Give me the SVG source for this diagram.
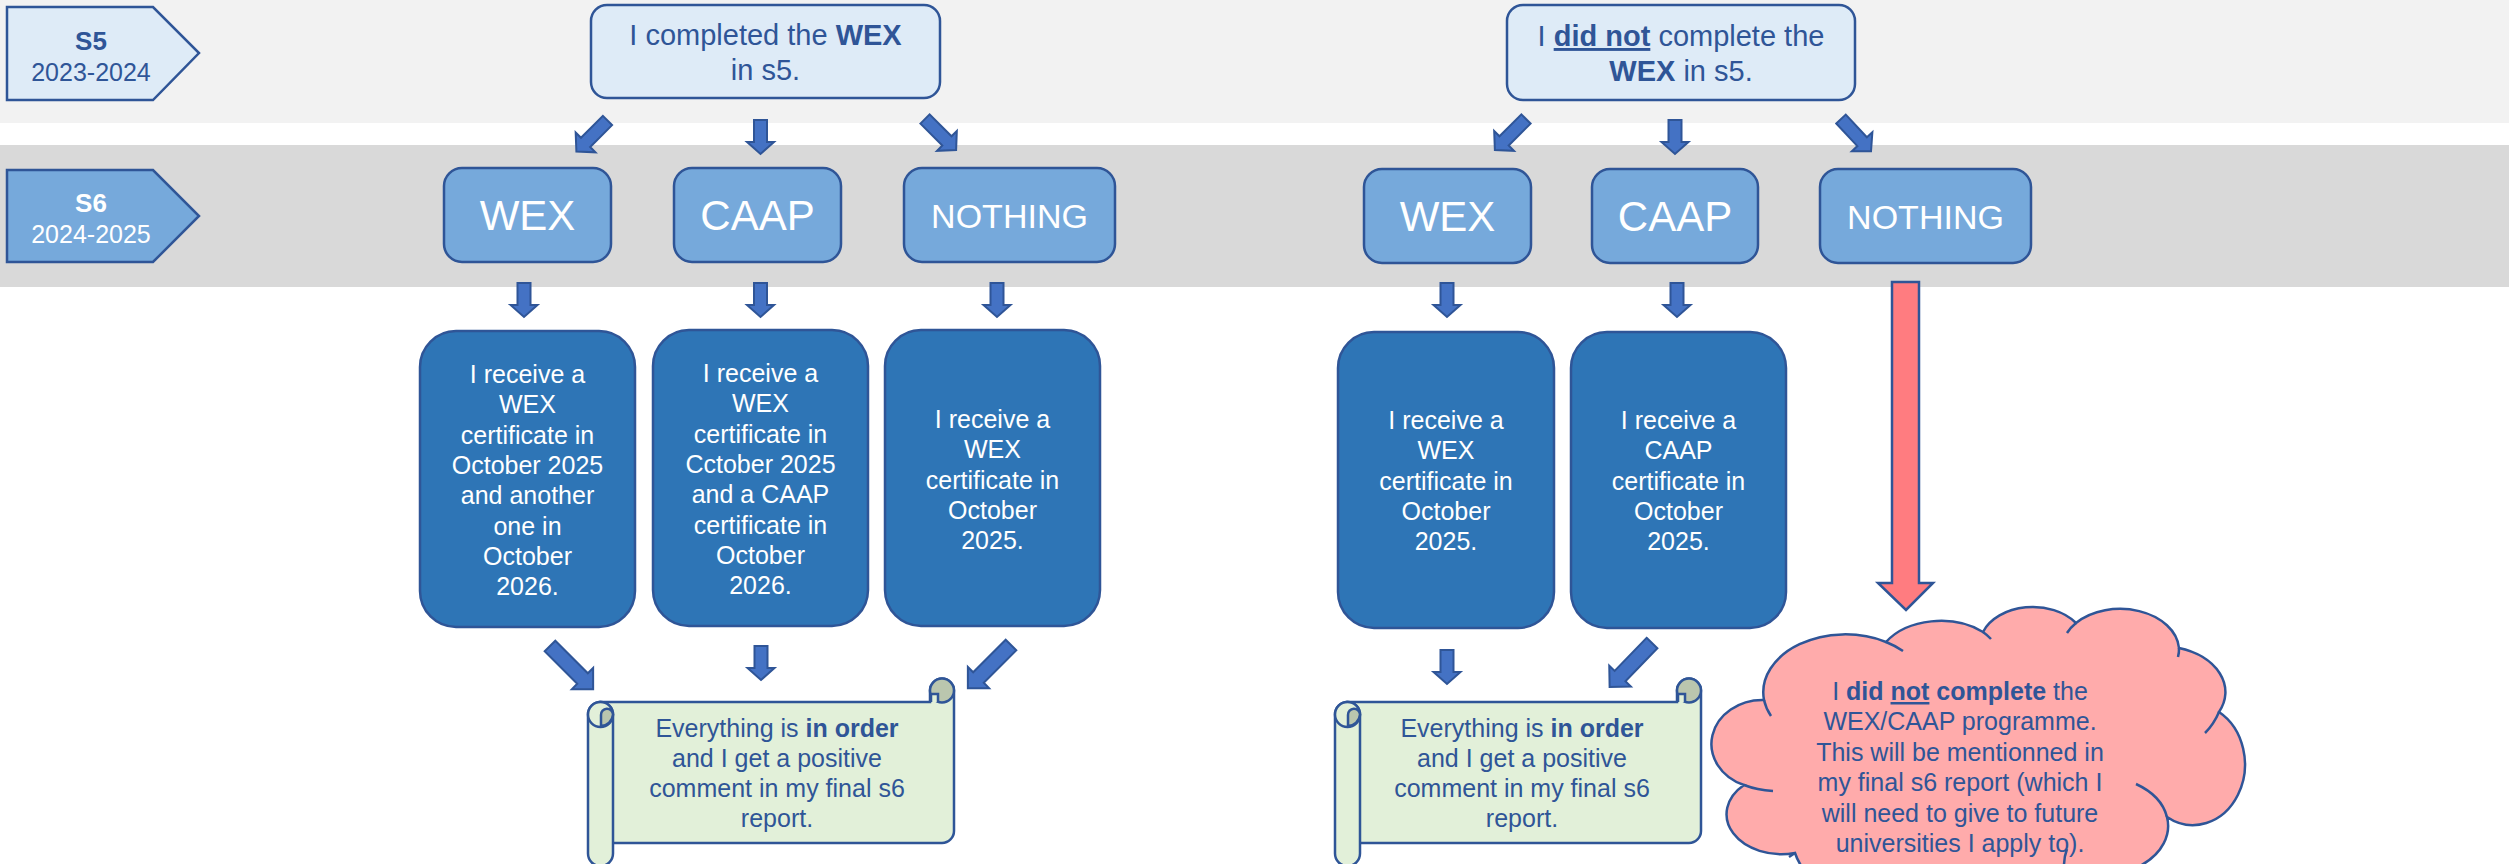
<svg xmlns="http://www.w3.org/2000/svg" width="2509" height="864" viewBox="0 0 2509 864">
<style>
text{font-family:"Liberation Sans",Arial,sans-serif;text-anchor:middle}
.tb{fill:#DEEBF7;stroke:#2F5597;stroke-width:2.5}
.mb{fill:#76A9DB;stroke:#2F5597;stroke-width:2.5}
.bb{fill:#2E75B6;stroke:#2F5597;stroke-width:2.5}
.ar{fill:#4472C4;stroke:#2F5597;stroke-width:2}
.lt{fill:#2F5597}
.wt{fill:#FFFFFF}
.f25{font-size:25px}
.f29{font-size:29px}
.b{font-weight:bold}
.tick{fill:none;stroke:#2F5597;stroke-width:2.5}
</style>
<defs>
<path id="as" d="M-6.5,0H6.5V22H13.5L0,34L-13.5,22H-6.5Z"/>
<path id="ad" d="M-6.5,0H6.5V31H14L0,44L-14,31H-6.5Z"/>
<path id="ab" d="M-7.5,0H7.5V46H15L0,61L-15,46H-7.5Z"/>
<g id="scroll" stroke="#2F5597" stroke-width="2.5">
<path d="M12,24H342V12.5A12 12 0 0 1 366,12.5V153A12 12 0 0 1 354,165H12Z" fill="#E2F0D9"/>
<circle cx="354" cy="12.5" r="12" fill="#BAC6AE"/>
<path d="M343,24V16H350V24" fill="#E2F0D9"/>
<rect x="0" y="24" width="25" height="164" rx="12.5" fill="#E2F0D9"/>
<circle cx="12.5" cy="36.5" r="12.5" fill="#E2F0D9"/>
<path d="M13,48V37A6 6 0 0 1 25,36.5A12.5 12.5 0 0 1 13,48Z" fill="#BAC6AE"/>
</g>
</defs>

<g id="bands">
<rect x="0" y="0" width="2509" height="123" fill="#F2F2F2"/>
<rect x="0" y="145" width="2509" height="142" fill="#D9D9D9"/>
</g>

<g id="s5">
<path class="tb" d="M7,7H153L199,53L153,100H7Z"/>
<text x="91" y="50" class="lt b" font-size="26">S5</text>
<text x="91" y="81" class="lt f25">2023-2024</text>
</g>
<g id="s6">
<path class="mb" d="M7,170H153L199,216L153,262H7Z"/>
<text x="91" y="212" class="wt b" font-size="26">S6</text>
<text x="91" y="243" class="wt f25">2024-2025</text>
</g>

<g id="completed">
<rect class="tb" x="591" y="5" width="349" height="93" rx="16"/>
<text x="765.5" y="45" class="lt f29">I completed the <tspan class="b">WEX</tspan></text>
<text x="765.5" y="80" class="lt f29">in s5.</text>
</g>
<g id="notcompleted">
<rect class="tb" x="1507" y="5" width="348" height="95" rx="16"/>
<text x="1681" y="46" class="lt f29">I <tspan class="b" text-decoration="underline">did not</tspan> complete the</text>
<text x="1681" y="81" class="lt f29"><tspan class="b">WEX</tspan> in s5.</text>
</g>

<g id="l-wex">
<rect class="mb" x="444" y="168" width="167" height="94" rx="18"/>
<text x="527.5" y="230" class="wt" font-size="42">WEX</text>
</g>
<g id="l-caap">
<rect class="mb" x="674" y="168" width="167" height="94" rx="18"/>
<text x="757.5" y="230" class="wt" font-size="42">CAAP</text>
</g>
<g id="l-nothing">
<rect class="mb" x="904" y="168" width="211" height="94" rx="18"/>
<text x="1009.5" y="228" class="wt" font-size="34">NOTHING</text>
</g>
<g id="r-wex">
<rect class="mb" x="1364" y="169" width="167" height="94" rx="18"/>
<text x="1447.5" y="231" class="wt" font-size="42">WEX</text>
</g>
<g id="r-caap">
<rect class="mb" x="1592" y="169" width="166" height="94" rx="18"/>
<text x="1675" y="231" class="wt" font-size="42">CAAP</text>
</g>
<g id="r-nothing">
<rect class="mb" x="1820" y="169" width="211" height="94" rx="18"/>
<text x="1925.5" y="229" class="wt" font-size="34">NOTHING</text>
</g>

<g id="l-cert1">
<rect class="bb" x="420" y="331" width="215" height="296" rx="36"/>
<text class="wt f25" y="383"><tspan x="527.5">I receive a</tspan><tspan x="527.5" dy="30.3">WEX</tspan><tspan x="527.5" dy="30.3">certificate in</tspan><tspan x="527.5" dy="30.3">October 2025</tspan><tspan x="527.5" dy="30.3">and another</tspan><tspan x="527.5" dy="30.3">one in</tspan><tspan x="527.5" dy="30.3">October</tspan><tspan x="527.5" dy="30.3">2026.</tspan></text>
</g>
<g id="l-cert2">
<rect class="bb" x="653" y="330" width="215" height="296" rx="36"/>
<text class="wt f25" y="382"><tspan x="760.5">I receive a</tspan><tspan x="760.5" dy="30.3">WEX</tspan><tspan x="760.5" dy="30.3">certificate in</tspan><tspan x="760.5" dy="30.3">Cctober 2025</tspan><tspan x="760.5" dy="30.3">and a CAAP</tspan><tspan x="760.5" dy="30.3">certificate in</tspan><tspan x="760.5" dy="30.3">October</tspan><tspan x="760.5" dy="30.3">2026.</tspan></text>
</g>
<g id="l-cert3">
<rect class="bb" x="885" y="330" width="215" height="296" rx="36"/>
<text class="wt f25" y="428"><tspan x="992.5">I receive a</tspan><tspan x="992.5" dy="30.3">WEX</tspan><tspan x="992.5" dy="30.3">certificate in</tspan><tspan x="992.5" dy="30.3">October</tspan><tspan x="992.5" dy="30.3">2025.</tspan></text>
</g>
<g id="r-cert1">
<rect class="bb" x="1338" y="332" width="216" height="296" rx="36"/>
<text class="wt f25" y="429"><tspan x="1446">I receive a</tspan><tspan x="1446" dy="30.3">WEX</tspan><tspan x="1446" dy="30.3">certificate in</tspan><tspan x="1446" dy="30.3">October</tspan><tspan x="1446" dy="30.3">2025.</tspan></text>
</g>
<g id="r-cert2">
<rect class="bb" x="1571" y="332" width="215" height="296" rx="36"/>
<text class="wt f25" y="429"><tspan x="1678.5">I receive a</tspan><tspan x="1678.5" dy="30.3">CAAP</tspan><tspan x="1678.5" dy="30.3">certificate in</tspan><tspan x="1678.5" dy="30.3">October</tspan><tspan x="1678.5" dy="30.3">2025.</tspan></text>
</g>

<g id="l-scroll">
<use href="#scroll" transform="translate(588,678)"/>
<text class="lt f25" y="737"><tspan x="777">Everything is <tspan class="b">in order</tspan></tspan><tspan x="777" dy="30">and I get a positive</tspan><tspan x="777" dy="30">comment in my final s6</tspan><tspan x="777" dy="30">report.</tspan></text>
</g>
<g id="r-scroll">
<use href="#scroll" transform="translate(1335,678)"/>
<text class="lt f25" y="737"><tspan x="1522">Everything is <tspan class="b">in order</tspan></tspan><tspan x="1522" dy="30">and I get a positive</tspan><tspan x="1522" dy="30">comment in my final s6</tspan><tspan x="1522" dy="30">report.</tspan></text>
</g>

<g id="cloud">
<path d="M1764,700A82,58 0 0 1 1886,642A65,46 0 0 1 1983,632A53,38 0 0 1 2076,623A59,42 0 0 1 2179,648A65,46 0 0 1 2219,712A48,56 0 0 1 2167,817A70,50 0 0 1 2071,872A82,58 0 0 1 1935,895A94,67 0 0 1 1795,853A55,40 0 0 1 1744,785A51,44 0 0 1 1764,700Z" fill="#FFABAB" stroke="#2F5597" stroke-width="2.5"/>
<path class="tick" d="M1886,642A82,58 0 0 1 1903,651"/>
<path class="tick" d="M1983,632A65,46 0 0 1 1991,639"/>
<path class="tick" d="M2067,633A59,42 0 0 1 2076,623"/>
<path class="tick" d="M2179,648A59,42 0 0 1 2178,657"/>
<path class="tick" d="M2219,712Q2214,724 2205,733"/>
<path class="tick" d="M2136,784A70,50 0 0 1 2167,817"/>
<path class="tick" d="M2067,849Q2064,857 2064,866"/>
<path class="tick" d="M1795,853L1789,857"/>
<path class="tick" d="M1744,785Q1757,790 1773,791"/>
<path class="tick" d="M1771,716A82,58 0 0 1 1764,700"/>
<text class="lt f25" y="700"><tspan x="1960">I <tspan class="b">did</tspan> <tspan class="b" text-decoration="underline">not</tspan> <tspan class="b">complete</tspan> the</tspan><tspan x="1960" dy="30.4">WEX/CAAP programme.</tspan><tspan x="1960" dy="30.4">This will be mentionned in</tspan><tspan x="1960" dy="30.4">my final s6 report (which I</tspan><tspan x="1960" dy="30.4">will need to give to future</tspan><tspan x="1960" dy="30.4">universities I apply to).</tspan></text>
</g>

<g id="connectors">
<use href="#ad" class="ar" transform="translate(607.5,120.5) rotate(45)"/>
<use href="#as" class="ar" transform="translate(760.5,120)"/>
<use href="#ad" class="ar" transform="translate(925,119) rotate(-45)"/>
<use href="#ad" class="ar" transform="translate(1526,119) rotate(45)"/>
<use href="#as" class="ar" transform="translate(1675,120)"/>
<use href="#ad" class="ar" transform="translate(1841,119) rotate(-43)"/>
<use href="#as" class="ar" transform="translate(524,283)"/>
<use href="#as" class="ar" transform="translate(760.5,283)"/>
<use href="#as" class="ar" transform="translate(997,283)"/>
<use href="#as" class="ar" transform="translate(1447,283)"/>
<use href="#as" class="ar" transform="translate(1677,283)"/>
<path d="M1892,282H1919V583H1933L1906,610L1878,583H1892Z" fill="#FF7C80" stroke="#2F5597" stroke-width="2.5"/>
<use href="#ab" class="ar" transform="translate(550,646) rotate(-45)"/>
<use href="#as" class="ar" transform="translate(761,646)"/>
<use href="#ab" class="ar" transform="translate(1011,645) rotate(45)"/>
<use href="#as" class="ar" transform="translate(1447,650)"/>
<use href="#ab" class="ar" transform="translate(1652,643) rotate(44)"/>
</g>
</svg>
